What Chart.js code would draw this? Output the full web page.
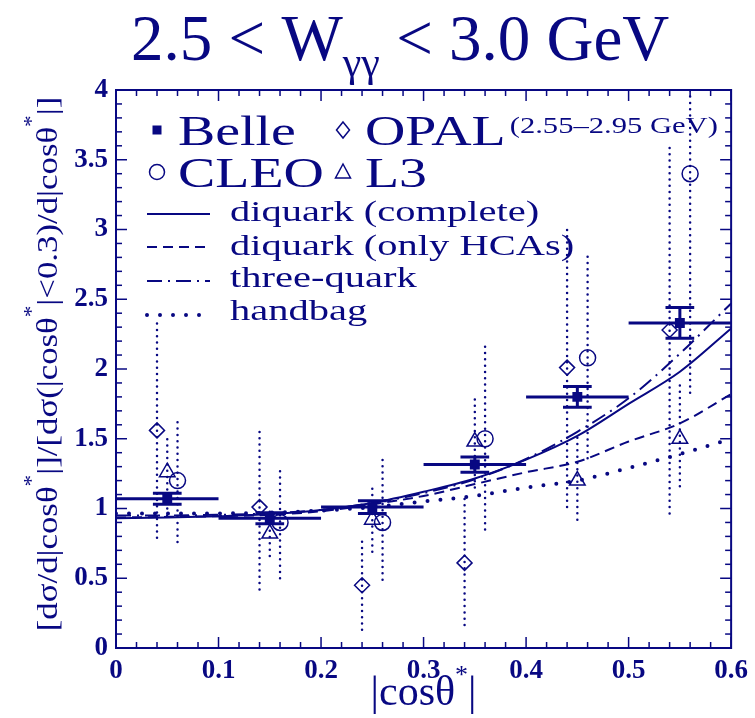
<!DOCTYPE html>
<html>
<head>
<meta charset="utf-8">
<script src="https://cdn.jsdelivr.net/npm/chart.js@4.4.1/dist/chart.umd.min.js"></script>
<style>
  html, body { margin: 0; padding: 0; background: #fff; }
</style>
</head>
<body>
<canvas id="grafico" width="755" height="718"></canvas>
<script>
// |cos theta*| grid for the model curves
const curveX      = [0, 0.05, 0.1, 0.15, 0.2, 0.25, 0.3, 0.35, 0.4, 0.45, 0.5, 0.55, 0.6];
const diquarkFull = [0.93, 0.935, 0.945, 0.96, 0.99, 1.04, 1.12, 1.215, 1.35, 1.52, 1.75, 1.98, 2.29];
const diquarkHCA  = [0.935, 0.94, 0.945, 0.955, 0.98, 1.03, 1.09, 1.175, 1.26, 1.335, 1.48, 1.61, 1.82];
const threeQuark  = [0.95, 0.95, 0.955, 0.965, 0.99, 1.04, 1.11, 1.21, 1.355, 1.55, 1.79, 2.11, 2.47];
const handbag     = [0.965, 0.965, 0.965, 0.97, 0.985, 1.01, 1.05, 1.09, 1.15, 1.2, 1.29, 1.39, 1.5];

// Belle bins
const belleX   = [0.05, 0.15, 0.25, 0.35, 0.45, 0.55];
const belleXLo = [0.0, 0.1, 0.2, 0.3, 0.4, 0.5];
const belleXHi = [0.1, 0.2, 0.3, 0.4, 0.5, 0.6];
const belleY   = [1.07, 0.93, 1.01, 1.315, 1.80, 2.33];
const belleErr = [0.04, 0.04, 0.045, 0.055, 0.075, 0.11];

// OPAL (2.55-2.95 GeV)
const opalX  = [0.04, 0.14, 0.24, 0.34, 0.44, 0.54];
const opalY  = [1.56, 1.01, 0.45, 0.61, 2.01, 2.28];
const opalLo = [0.79, 0.42, 0.13, 0.165, 1.01, 0.965];
const opalHi = [2.34, 1.57, 0.80, 1.10, 3.02, 3.59];

// L3
const l3X  = [0.05, 0.15, 0.25, 0.35, 0.45, 0.55];
const l3Y  = [1.26, 0.82, 0.92, 1.48, 1.20, 1.50];
const l3Lo = [1.00, 0.66, 0.69, 1.15, 0.92, 1.16];
const l3Hi = [1.54, 1.02, 1.145, 1.80, 1.54, 1.885];

// CLEO
const cleoX  = [0.06, 0.16, 0.26, 0.36, 0.46, 0.56];
const cleoY  = [1.20, 0.90, 0.90, 1.50, 2.08, 3.40];
const cleoLo = [0.76, 0.50, 0.49, 0.85, 1.36, 1.83];
const cleoHi = [1.655, 1.31, 1.35, 2.18, 2.84, 4.5];

const navy = 'rgb(8,8,130)';
const serif = '"Liberation Serif", "Times New Roman", serif';
const capHalf = 0.014;

const pts = (xs, ys) => xs.map((x, i) => ({ x, y: ys[i] }));

// vertical segments separated by gaps
function vSegs(xs, lo, hi) {
  const out = [];
  xs.forEach((x, i) => out.push({ x, y: lo[i] }, { x, y: hi[i] }, { x, y: null }));
  return out;
}

function belleSegs() {
  const out = [];
  belleX.forEach((x, i) => {
    const y = belleY[i], e = belleErr[i];
    out.push({ x: belleXLo[i], y }, { x: belleXHi[i], y }, { x, y: null });
    out.push({ x, y: y - e }, { x, y: y + e }, { x, y: null });
    out.push({ x: x - capHalf, y: y - e }, { x: x + capHalf, y: y - e }, { x, y: null });
    out.push({ x: x - capHalf, y: y + e }, { x: x + capHalf, y: y + e }, { x, y: null });
  });
  return out;
}

const curveStyle = {
  full:  { borderDash: [], borderWidth: 2, cap: 'butt' },
  hca:   { borderDash: [10, 6], borderWidth: 2, cap: 'butt' },
  three: { borderDash: [15, 6, 2, 6], borderWidth: 2, cap: 'butt' },
  bag:   { borderDash: [0, 13], borderWidth: 4, cap: 'round' }
};

function curve(label, ys, st) {
  return {
    label, data: pts(curveX, ys), borderColor: navy, borderWidth: st.borderWidth,
    borderDash: st.borderDash, borderCapStyle: st.cap, pointRadius: 0,
    cubicInterpolationMode: 'monotone', order: 4
  };
}

function dottedBars(label, xs, lo, hi) {
  return {
    label, data: vSegs(xs, lo, hi), borderColor: navy, borderWidth: 2.5,
    borderDash: [0, 6.3], borderCapStyle: 'round', pointRadius: 0, order: 3
  };
}

function markers(label, xs, ys, style, r) {
  return {
    type: 'scatter', label, data: pts(xs, ys), pointStyle: style, pointRadius: r,
    pointBorderColor: navy, pointBackgroundColor: 'rgba(0,0,0,0)', pointBorderWidth: 1.5,
    showLine: false, order: 2
  };
}

const datasets = [
  curve('diquark (complete)', diquarkFull, curveStyle.full),
  curve('diquark (only HCAs)', diquarkHCA, curveStyle.hca),
  curve('three-quark', threeQuark, curveStyle.three),
  curve('handbag', handbag, curveStyle.bag),
  dottedBars('OPAL err', opalX, opalLo, opalHi),
  dottedBars('L3 err', l3X, l3Lo, l3Hi),
  dottedBars('CLEO err', cleoX, cleoLo, cleoHi),
  markers('OPAL', opalX, opalY, 'rectRot', 7.5),
  markers('L3', l3X, l3Y, 'triangle', 9),
  markers('CLEO', cleoX, cleoY, 'circle', 8),
  {
    label: 'Belle err', data: belleSegs(), borderColor: navy, borderWidth: 3,
    pointRadius: 0, order: 1
  },
  {
    type: 'scatter', label: 'Belle', data: pts(belleX, belleY), pointStyle: 'rect',
    pointRadius: 7, pointBackgroundColor: navy, pointBorderColor: navy, pointBorderWidth: 0,
    showLine: false, order: 0
  }
];

// text made of runs: [string, size, raise]
function richText(ctx, runs, x, y, sx, weight) {
  ctx.save();
  ctx.translate(x, y);
  ctx.scale(sx, 1);
  let cx = 0;
  for (const [t, size, raise] of runs) {
    ctx.font = (weight || '') + ' ' + size + 'px ' + serif;
    ctx.fillText(t, cx, -raise);
    cx += ctx.measureText(t).width;
  }
  ctx.restore();
  return cx * sx;
}
function richWidth(ctx, runs, sx) {
  let w = 0;
  for (const [t, size] of runs) {
    ctx.font = size + 'px ' + serif;
    w += ctx.measureText(t).width;
  }
  return w * sx;
}

function seg(ctx, x1, y1, x2, y2) {
  ctx.beginPath(); ctx.moveTo(x1, y1); ctx.lineTo(x2, y2); ctx.stroke();
}

const decorations = {
  id: 'decorations',
  afterDatasetsDraw(chart) {
    const { ctx, chartArea: a, scales: { x, y } } = chart;
    ctx.save();
    ctx.strokeStyle = navy;
    ctx.fillStyle = navy;

    // frame with inward ticks on all sides
    ctx.lineWidth = 2;
    ctx.strokeRect(a.left, a.top, a.right - a.left, a.bottom - a.top);
    ctx.lineWidth = 1.5;
    for (let i = 0; i <= 30; i++) {
      const px = x.getPixelForValue(i * 0.02), len = i % 5 === 0 ? 11 : 6;
      seg(ctx, px, a.bottom, px, a.bottom - len);
      seg(ctx, px, a.top, px, a.top + len);
    }
    for (let i = 0; i <= 40; i++) {
      const py = y.getPixelForValue(i * 0.1), len = i % 5 === 0 ? 11 : 6;
      seg(ctx, a.left, py, a.left + len, py);
      seg(ctx, a.right, py, a.right - len, py);
    }

    // title
    ctx.textBaseline = 'alphabetic';
    richText(ctx, [['2.5 < W', 65, 0], ['γγ', 42, -16], [' < 3.0 GeV', 65, 0]], 131, 60, 1);

    // x-axis title
    const xt = [['|cosθ', 42, 0], ['*', 26, 22], ['|', 42, 0]];
    richText(ctx, xt, (a.left + a.right) / 2 - richWidth(ctx, xt, 1) / 2, 705, 1);

    // y-axis title, reading upwards
    const yt = [['[dσ/d|cosθ', 30, 0], ['*', 20, 19], ['|]/[dσ(|cosθ', 30, 0], ['*', 20, 19],
                ['|<0.3)/d|cosθ', 30, 0], ['*', 20, 19], ['|]', 30, 0]];
    const ysx = 1.16;
    const yw = richWidth(ctx, yt, ysx);
    ctx.save();
    ctx.translate(57, 364 + yw / 2);
    ctx.rotate(-Math.PI / 2);
    richText(ctx, yt, 0, 0, ysx);
    ctx.restore();

    // legend: experiments
    const lsx = 1.33;
    ctx.lineWidth = 1.5;
    ctx.fillRect(152.5, 125.5, 9, 9);
    richText(ctx, [['Belle', 42, 0]], 178, 145, lsx);
    ctx.beginPath();
    ctx.moveTo(343, 122); ctx.lineTo(349.5, 130); ctx.lineTo(343, 138); ctx.lineTo(336.5, 130); ctx.closePath();
    ctx.stroke();
    const opalW = richText(ctx, [['OPAL', 42, 0]], 365, 145, lsx);
    richText(ctx, [['(2.55–2.95 GeV)', 23, 0]], 365 + opalW + 4, 133, lsx);
    ctx.beginPath(); ctx.arc(157, 172, 7.5, 0, Math.PI * 2); ctx.stroke();
    richText(ctx, [['CLEO', 42, 0]], 178, 187, lsx);
    ctx.beginPath();
    ctx.moveTo(343, 164); ctx.lineTo(350.5, 178); ctx.lineTo(335.5, 178); ctx.closePath();
    ctx.stroke();
    richText(ctx, [['L3', 42, 0]], 365, 187, lsx);

    // legend: model curves
    const rows = [
      ['diquark (complete)', curveStyle.full, 214, 221],
      ['diquark (only HCAs)', curveStyle.hca, 247, 255],
      ['three-quark', curveStyle.three, 281, 287],
      ['handbag', curveStyle.bag, 315, 320]
    ];
    for (const [label, st, ly, by] of rows) {
      ctx.save();
      ctx.lineWidth = st.borderWidth;
      ctx.lineCap = st.cap;
      ctx.setLineDash(st.borderDash);
      seg(ctx, 147, ly, 210, ly);
      ctx.restore();
      richText(ctx, [[label, 30, 0]], 230, by, 1.35);
    }
    ctx.restore();
  }
};

const tickFont = { family: serif, size: 27, weight: 'bold' };

new Chart(document.getElementById('grafico'), {
  type: 'line',
  data: { datasets },
  options: {
    responsive: false,
    animation: false,
    layout: { padding: { top: 90, right: 19, left: 0, bottom: 0 } },
    plugins: { legend: { display: false }, tooltip: { enabled: false } },
    scales: {
      x: {
        type: 'linear', min: 0, max: 0.6,
        grid: { display: false, drawTicks: false }, border: { display: false },
        ticks: { stepSize: 0.1, color: navy, font: tickFont, padding: 7, maxRotation: 0,
                 callback: v => String(+v.toFixed(1)) },
        afterFit: s => { s.height = 70; }
      },
      y: {
        type: 'linear', min: 0, max: 4,
        grid: { display: false, drawTicks: false }, border: { display: false },
        ticks: { stepSize: 0.5, color: navy, font: tickFont, padding: 8,
                 callback: v => String(+v.toFixed(1)) },
        afterFit: s => { s.width = 116; }
      }
    }
  },
  plugins: [decorations]
});
</script>
</body>
</html>
